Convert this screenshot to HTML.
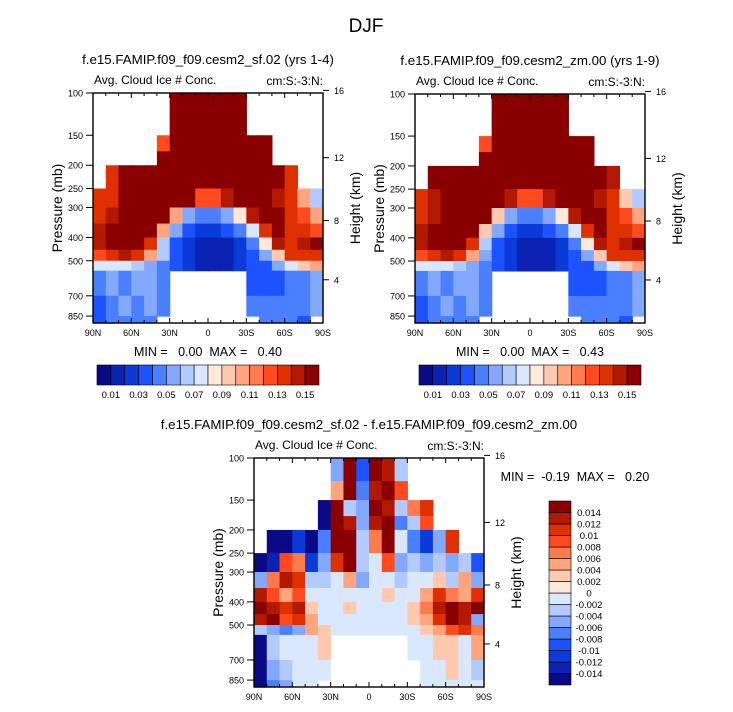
<!DOCTYPE html>
<html><head><meta charset="utf-8">
<style>
html,body{margin:0;padding:0;background:#fff;}
svg{display:block;font-family:"Liberation Sans",Arial,sans-serif;}
text{white-space:pre;}
</style></head>
<body>
<svg id="fig" width="733" height="712" viewBox="0 0 733 712">
<text x="366" y="32" font-size="19" text-anchor="middle">DJF</text>
<g id="root"></g>
</svg>
<script>
const latLabels = ["90N","60N","30N","0","30S","60S","90S"];
const presTicks = [100,150,200,250,300,400,500,700,850];
const heightTicks = [16,12,8,4];
const heightTickPres = [97.5,186,340,600];
const rowBounds = [100,125,150,175,200,250,300,350,400,450,500,550,700,850,1000];
const levelsAbs = [0.01,0.02,0.03,0.04,0.05,0.06,0.07,0.08,0.09,0.10,0.11,0.12,0.13,0.14,0.15];
const levelsAbsLabels = ["0.01","0.03","0.05","0.07","0.09","0.11","0.13","0.15"];
const levelsDiff = [-0.014,-0.012,-0.010,-0.008,-0.006,-0.004,-0.002,0,0.002,0.004,0.006,0.008,0.010,0.012,0.014];
const levelsDiffLabels = ["-0.014","-0.012","-0.01","-0.008","-0.006","-0.004","-0.002","0","0.002","0.004","0.006","0.008","0.01","0.012","0.014"];
const palette = ["#0a0a86","#0b22b2","#0a3ad8","#1c52ff","#4a80ff","#82a9ff","#b2cbff","#d9e8ff","#ffe9da","#ffc9b0","#ffa57e","#ff7a4c","#ff4a1e","#de3000","#b31800","#8a0000"];
const N = null;
const fieldA = [
[N,N,N,N,N,N,0.16,0.16,0.16,0.16,0.16,0.16,N,N,N,N,N,N],
[N,N,N,N,N,N,0.16,0.16,0.16,0.16,0.16,0.16,N,N,N,N,N,N],
[N,N,N,N,N,0.12,0.16,0.16,0.16,0.16,0.16,0.16,0.16,0.16,N,N,N,N],
[N,N,N,N,N,0.15,0.16,0.16,0.16,0.16,0.16,0.16,0.16,0.16,N,N,N,N],
[N,0.13,0.16,0.16,0.16,0.16,0.16,0.16,0.16,0.16,0.16,0.16,0.16,0.16,0.15,0.13,N,N],
[0.13,0.13,0.16,0.16,0.16,0.16,0.16,0.15,0.12,0.12,0.14,0.16,0.16,0.16,0.14,0.13,0.10,0.06],
[0.13,0.14,0.16,0.16,0.16,0.15,0.10,0.05,0.04,0.04,0.05,0.08,0.14,0.16,0.15,0.13,0.12,0.10],
[0.14,0.15,0.16,0.16,0.16,0.10,0.05,0.03,0.02,0.02,0.03,0.04,0.07,0.13,0.15,0.13,0.13,0.12],
[0.14,0.15,0.16,0.16,0.13,0.06,0.03,0.02,0.01,0.01,0.01,0.02,0.04,0.08,0.14,0.13,0.14,0.15],
[0.12,0.13,0.14,0.13,0.10,0.06,0.03,0.02,0.01,0.01,0.01,0.02,0.03,0.05,0.09,0.13,0.13,0.13],
[0.07,0.07,0.07,0.06,0.05,0.04,0.03,0.02,0.01,0.01,0.01,0.02,0.03,0.03,0.05,0.07,0.09,0.10],
[0.04,0.05,0.04,0.05,0.05,0.04,N,N,N,N,N,N,0.03,0.03,0.03,0.04,0.04,0.05],
[0.03,0.04,0.05,0.04,0.05,0.04,N,N,N,N,N,N,0.04,0.04,0.04,0.04,0.04,0.05],
[0.03,0.04,0.04,0.04,0.04,N,N,N,N,N,N,N,N,0.04,0.04,0.04,0.03,N]
];
const fieldB = [
[N,N,N,N,N,N,0.16,0.16,0.16,0.16,0.16,0.16,N,N,N,N,N,N],
[N,N,N,N,N,N,0.16,0.16,0.16,0.16,0.16,0.16,N,N,N,N,N,N],
[N,N,N,N,N,0.12,0.16,0.16,0.16,0.16,0.16,0.16,0.16,0.16,N,N,N,N],
[N,N,N,N,N,0.15,0.16,0.16,0.16,0.16,0.16,0.16,0.16,0.16,N,N,N,N],
[N,0.16,0.16,0.16,0.16,0.16,0.16,0.16,0.16,0.16,0.16,0.16,0.16,0.16,0.15,0.14,N,N],
[0.13,0.14,0.16,0.16,0.16,0.16,0.16,0.14,0.12,0.12,0.14,0.16,0.16,0.16,0.14,0.13,0.09,0.06],
[0.13,0.14,0.16,0.16,0.16,0.15,0.09,0.05,0.04,0.04,0.05,0.08,0.14,0.16,0.15,0.13,0.12,0.10],
[0.14,0.15,0.16,0.16,0.16,0.09,0.05,0.03,0.02,0.02,0.03,0.04,0.07,0.13,0.15,0.13,0.13,0.12],
[0.14,0.15,0.16,0.16,0.13,0.06,0.03,0.02,0.01,0.01,0.01,0.02,0.04,0.08,0.14,0.13,0.14,0.15],
[0.12,0.13,0.14,0.13,0.10,0.05,0.03,0.02,0.01,0.01,0.01,0.02,0.03,0.05,0.09,0.13,0.13,0.13],
[0.07,0.07,0.07,0.06,0.05,0.04,0.03,0.02,0.01,0.01,0.01,0.02,0.03,0.03,0.05,0.07,0.09,0.10],
[0.04,0.05,0.04,0.05,0.05,0.04,N,N,N,N,N,N,0.03,0.03,0.03,0.04,0.04,0.05],
[0.03,0.04,0.05,0.04,0.05,0.04,N,N,N,N,N,N,0.04,0.04,0.04,0.04,0.04,0.05],
[0.03,0.04,0.04,0.04,0.04,N,N,N,N,N,N,N,N,0.04,0.04,0.04,0.03,N]
];
const fieldDiff = [
[N,N,N,N,N,N,-0.006,0.016,-0.010,0.016,0.012,-0.004,N,N,N,N,N,N],
[N,N,N,N,N,N,0.004,0.016,-0.008,0.012,0.014,0.008,N,N,N,N,N,N],
[N,N,N,N,N,-0.016,0.016,-0.004,-0.006,0.014,0.012,-0.004,0.006,0.010,N,N,N,N],
[N,N,N,N,N,-0.016,0.016,0.012,-0.006,0.012,0.016,-0.008,-0.004,0.008,N,N,N,N],
[N,-0.016,-0.016,-0.012,-0.016,-0.008,0.016,0.016,-0.004,0.006,0.016,-0.002,-0.008,-0.012,-0.006,0.010,N,N],
[-0.016,-0.014,0.008,0.006,-0.012,-0.006,0.010,0.016,-0.004,-0.002,0.008,-0.006,-0.004,-0.006,-0.004,-0.006,-0.004,-0.010],
[-0.006,0.006,0.012,0.010,-0.004,-0.004,-0.002,0.004,-0.006,-0.002,-0.002,-0.004,-0.002,-0.002,0.002,-0.004,0.004,-0.006],
[0.012,0.008,0.004,0.008,-0.002,-0.002,-0.002,-0.002,-0.002,-0.002,0.002,-0.002,-0.002,0.004,0.010,0.006,0.004,0.010],
[0.014,0.012,0.010,0.012,0.002,-0.002,-0.002,0.002,-0.002,-0.002,-0.002,-0.002,0.002,0.006,0.012,0.014,0.012,0.014],
[0.012,0.014,0.008,0.010,0.004,-0.002,-0.002,-0.002,-0.002,-0.002,-0.002,-0.002,0.002,0.004,0.010,0.014,0.012,-0.006],
[-0.004,-0.006,-0.008,-0.006,0.004,0.002,-0.002,-0.002,-0.002,-0.002,-0.002,-0.002,-0.002,0.002,0.004,0.008,0.010,0.006],
[-0.016,-0.004,-0.002,-0.002,-0.002,0.002,N,N,N,N,N,N,-0.002,-0.002,0.002,0.002,-0.002,0.004],
[-0.016,-0.006,-0.004,-0.002,-0.002,-0.002,N,N,N,N,N,N,N,-0.002,-0.002,0.002,-0.002,-0.004],
[-0.016,-0.008,-0.006,-0.002,-0.002,N,N,N,N,N,N,N,N,-0.002,-0.002,-0.002,-0.002,-0.002]
];

const SVGNS = "http://www.w3.org/2000/svg";
const root = document.getElementById('root');
function mk(tag, attrs, parent){
  const e = document.createElementNS(SVGNS, tag);
  for (const k in attrs) e.setAttribute(k, attrs[k]);
  (parent||root).appendChild(e);
  return e;
}
function colorFor(v, levels){
  let i = 0;
  while (i < levels.length && v >= levels[i] - 1e-9) i++;
  return palette[i];
}
function txt(x,y,s,size,anchor,parent){
  const t = mk('text',{x:x,y:y,'font-size':size,'text-anchor':anchor||'start'},parent);
  t.textContent = s;
  return t;
}
function drawPanel(x0, y0, W, H, field, levels, title, name){
  const g = mk('g',{});
  
  
  const yOf = p => Math.min(y0 + H, y0 + 240*(H/230)*Math.log10(p/100));
  const xOf = lat => x0 + (90 - lat)/180*W;
  const ncol = field[0].length;
  const cells = mk('g',{},g);
  
  
  for (let r = 0; r < field.length; r++){
    const ya = yOf(rowBounds[r]), yb = yOf(rowBounds[r+1]);
    if (ya >= y0 + H) continue;
    for (let c = 0; c < ncol; c++){
      const v = field[r][c];
      if (v === null) continue;
      const xa = xOf(90 - c*180/ncol), xb = xOf(90 - (c+1)*180/ncol);
      const rect = mk('rect',{x:xa.toFixed(2),y:ya.toFixed(2),width:(xb-xa+0.6).toFixed(2),height:(yb-ya+0.6).toFixed(2),fill:colorFor(v,levels)},cells);
      
      
    }
  }
  const frame = mk('rect',{x:x0,y:y0,width:W,height:H,fill:'none',stroke:'#000','stroke-width':1.4},g);
  
  
  for (let lat = 90; lat >= -90; lat -= 10){
    const x = xOf(lat), major = (lat % 30 === 0);
    const L = major ? 5 : 3;
    mk('line',{x1:x,y1:y0+H,x2:x,y2:y0+H-L,stroke:'#000','stroke-width':1},g);
    mk('line',{x1:x,y1:y0,x2:x,y2:y0+L,stroke:'#000','stroke-width':1},g);
  }
  latLabels.forEach((s,i)=>{
    const t = txt(xOf(90 - i*30), y0+H+13, s, 9, 'middle', g);
    
    
  });
  presTicks.forEach(p=>{
    const y = yOf(p);
    mk('line',{x1:x0-7,y1:y,x2:x0,y2:y,stroke:'#000','stroke-width':1},g);
    const t = txt(x0-10, y+3.5, String(p), 9, 'end', g);
    
    
  });
  heightTicks.forEach((h,i)=>{
    const y = yOf(heightTickPres[i]);
    mk('line',{x1:x0+W,y1:y,x2:x0+W+6,y2:y,stroke:'#000','stroke-width':1},g);
    const t = txt(x0+W+11, y+3.5, String(h), 9, 'start', g);
    
    
  });
  const ty = txt(x0-31, y0+H/2, 'Pressure (mb)', 14, 'middle', g);
  ty.setAttribute('transform', `rotate(-90 ${x0-31} ${y0+H/2})`);
  
  
  const th = txt(x0+W+37, y0+H/2, 'Height (km)', 14, 'middle', g);
  th.setAttribute('transform', `rotate(-90 ${x0+W+37} ${y0+H/2})`);
  
  
  const t1 = txt(x0+1, y0-9, 'Avg. Cloud Ice # Conc.', 12, 'start', g);
  
  
  const t2 = txt(x0+W, y0-8, 'cm:S:-3:N:', 12, 'end', g);
  
  
  const t3 = txt(x0+W/2, y0-29, title, 13.3, 'middle', g);
  
  
  return g;
}
function hColorbar(x0,y0,W,H,name){
  const g = mk('g',{});
  
  
  const n = palette.length, bw = W/n;
  palette.forEach((c,i)=>{
    const r = mk('rect',{x:x0+i*bw,y:y0,width:bw,height:H,fill:c,stroke:'#000','stroke-width':0.6},g);
    
    
  });
  levelsAbsLabels.forEach((s,i)=>{
    const t = txt(x0+(1+2*i)*bw, y0+H+13, s, 9.5, 'middle', g);
    
    
  });
}
function vColorbar(x0,y0,W,H,name){
  const g = mk('g',{});
  
  
  const n = palette.length, bh = H/n;
  palette.forEach((c,i)=>{
    const r = mk('rect',{x:x0,y:y0+(n-1-i)*bh,width:W,height:bh,fill:c,stroke:'#000','stroke-width':0.6},g);
    
    
  });
  levelsDiffLabels.forEach((s,i)=>{
    const t = txt(x0+W+18, y0+(n-1-i)*bh+3.5, s, 9.5, 'middle', g);
    
    
  });
}
drawPanel(93,93,230,230,fieldA,levelsAbs,'f.e15.FAMIP.f09_f09.cesm2_sf.02 (yrs 1-4)','panel-sf02');
drawPanel(415,94,230,229,fieldB,levelsAbs,'f.e15.FAMIP.f09_f09.cesm2_zm.00 (yrs 1-9)','panel-zm00');
drawPanel(254,458,230,229,fieldDiff,levelsDiff,'f.e15.FAMIP.f09_f09.cesm2_sf.02 - f.e15.FAMIP.f09_f09.cesm2_zm.00','panel-diff');
hColorbar(97,365,222,20,'colorbar-sf02');
hColorbar(419,365,222,20,'colorbar-zm00');
vColorbar(549,501,22,184,'colorbar-diff');
let m;
m = txt(208,356,'MIN =   0.00  MAX =   0.40',12.5,'middle');


m = txt(530,356,'MIN =   0.00  MAX =   0.43',12.5,'middle');


m = txt(575,481,'MIN =  -0.19  MAX =   0.20',12.5,'middle');


</script>
</body></html>
